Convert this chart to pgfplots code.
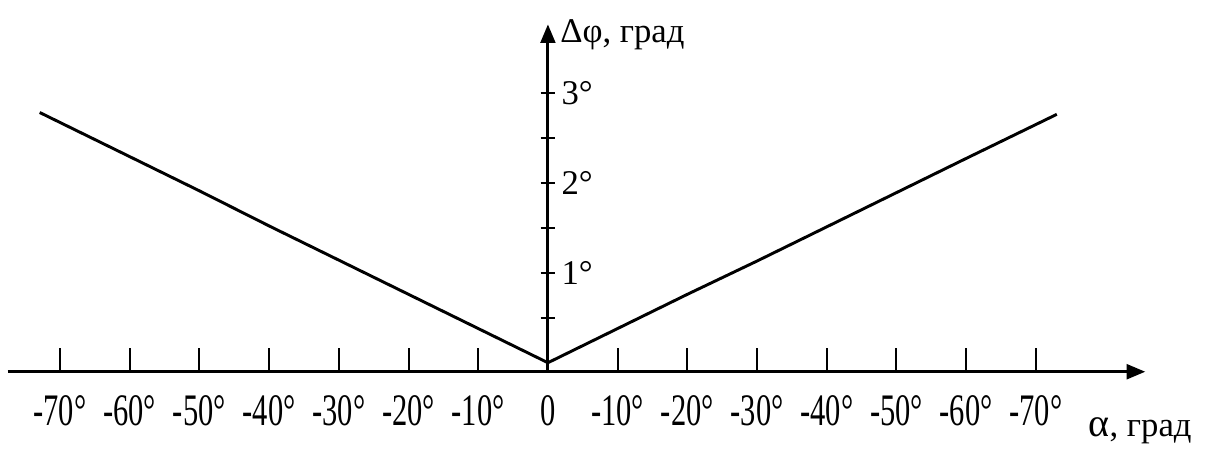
\documentclass[border=0pt]{standalone}
\usepackage{fontspec}
\setmainfont{Liberation Serif}
\usepackage{graphicx}
\usepackage{pgfplots}
\pgfplotsset{compat=1.18}
\usetikzlibrary{arrows.meta}
\newcommand\TL[1]{\scalebox{0.88}[1.3]{#1}}
\begin{document}
\fontsize{13}{15}\selectfont
\begin{tikzpicture}
\begin{axis}[
  x=2.614pt, y=33.75pt,
  xmin=-77.5, xmax=85.7, ymin=-0.1, ymax=3.76,
  axis x line=bottom, axis y line=middle,
  axis line style={line width=1.15pt, black, -{Triangle[length=7pt,width=5.5pt]}},
  clip=false,
  hide obscured x ticks=false,
  hide obscured y ticks=false,
  xtick={-70,-60,-50,-40,-30,-20,-10,10,20,30,40,50,60,70},
  xticklabels={\TL{-70°},\TL{-60°},\TL{-50°},\TL{-40°},\TL{-30°},\TL{-20°},\TL{-10°},\TL{-10°},\TL{-20°},\TL{-30°},\TL{-40°},\TL{-50°},\TL{-60°},\TL{-70°}},
  extra x ticks={0},
  extra x tick labels={\TL{0}},
  extra x tick style={major tick length=0pt},
  ytick={0.5,1,1.5,2,2.5,3},
  yticklabels={,1°,,2°,,3°},
  xtick align=inside,
  ytick align=center,
  xtick style={line width=0.75pt, black, /pgfplots/major tick length=9pt},
  ytick style={line width=0.75pt, black, /pgfplots/major tick length=5.5pt},
  xticklabel style={yshift=-4.3pt},
  yticklabel style={anchor=west, xshift=2.7pt},
]
\addplot[line width=1.1pt, black, line join=round] coordinates {
  (-72.9,2.78) (-60,2.29) (-50,1.91) (-40,1.52) (-30,1.14) (-20,0.76) (-10,0.38) (0,0.0)
  (10,0.38) (20,0.76) (30,1.13) (40,1.51) (50,1.89) (60,2.27) (73,2.76)
};
\node[anchor=base west, inner sep=0pt] at (axis cs:1.7,3.56) {Δφ, град};
\node[anchor=base west, inner sep=0pt] at (axis cs:77.5,-0.82) {{\fontsize{15}{17}\selectfont α}, град};
\path (axis cs:-78.6,-0.967) rectangle (axis cs:94.4,4.03);
\end{axis}
\end{tikzpicture}
\end{document}
